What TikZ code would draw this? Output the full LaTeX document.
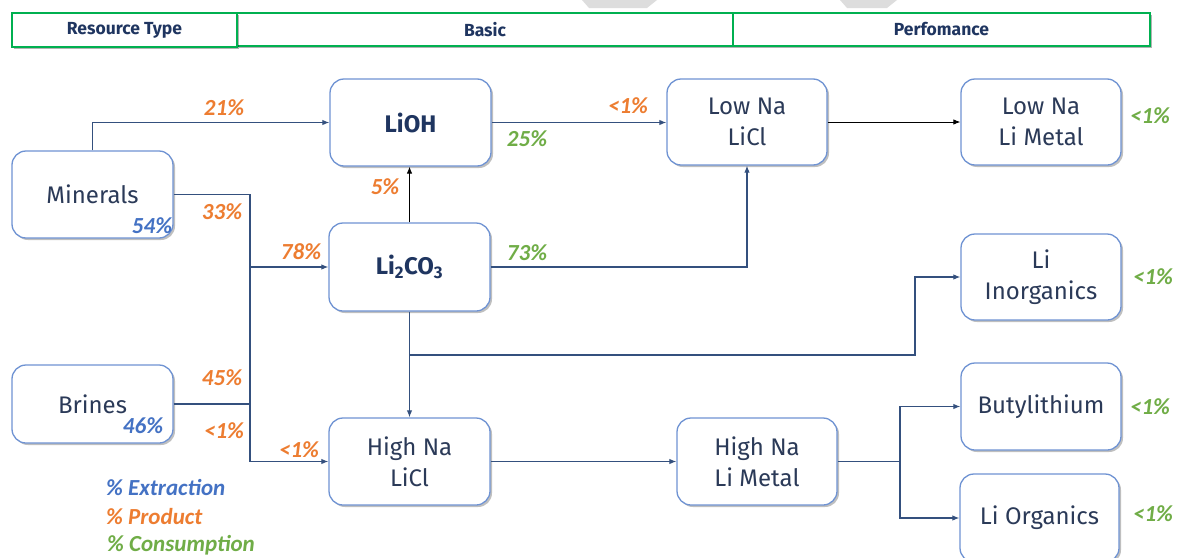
\documentclass[tikz,border=0pt]{standalone}
\usepackage{fontspec}
\setmainfont{Fira Sans}
\newfontfamily\pctfont{Carlito}
\usetikzlibrary{arrows.meta,shadows}
\definecolor{boxc}{HTML}{6F93D3}
\definecolor{txt}{HTML}{2B3A58}
\definecolor{txtb}{HTML}{1F3560}
\definecolor{linec}{HTML}{34507E}
\definecolor{hgreen}{HTML}{00B050}
\definecolor{por}{HTML}{ED7D31}
\definecolor{pbl}{HTML}{4472C4}
\definecolor{pgr}{HTML}{70AD47}
\definecolor{wm}{HTML}{DDDDDD}
\tikzset{
  box/.style={draw=boxc, line width=1.3pt, rounded corners=14pt, fill=white,
    minimum width=161pt, minimum height=87pt, inner sep=0pt, align=center,
    font=\fontsize{24}{31}\selectfont, text=txt,
    drop shadow={shadow xshift=2pt, shadow yshift=-2pt, opacity=0.25, fill=black}},
  boldbox/.style={box, font=\fontsize{24}{31}\selectfont\bfseries, text=txtb},
  hdr/.style={draw=hgreen, line width=2.5pt, fill=white, minimum height=33pt, inner sep=0pt,
    font=\fontsize{17.5}{19}\selectfont\bfseries, text=txtb,
    drop shadow={shadow xshift=1.5pt, shadow yshift=-1.5pt, opacity=0.3, fill=black}},
  pct/.style={font=\pctfont\fontsize{23}{25}\selectfont\bfseries\itshape, inner sep=0pt},
  po/.style={pct, text=por},
  pb/.style={pct, text=pbl},
  pg/.style={pct, text=pgr},
  conn/.style={draw=linec, line width=1.1pt, -{Latex[length=7pt,width=5.5pt]}},
  bconn/.style={draw=black, line width=0.9pt, -{Latex[length=7pt,width=5.5pt]}},
  plain/.style={draw=linec, line width=1.1pt},
}
\begin{document}
\begin{tikzpicture}[x=1pt,y=-1pt]
\fill[white] (0,0) rectangle (1178,557);
\useasboundingbox (0,0) rectangle (1178,557);
% faint watermark shapes at the top
\fill[wm] (582,0) -- (657,0) -- (647,8) -- (589,8) -- cycle;
\fill[wm] (840,0) -- (897,0) -- (887,8) -- (847,8) -- cycle;
% header
\node[hdr, minimum width=496pt] (hB) at (485,29.5) {Basic};
\node[hdr, minimum width=417pt] (hP) at (941.5,29.5) {Perfomance};
\node[hdr, minimum width=225pt, minimum height=34pt] (hR) at (124.5,30) {Resource Type};
% nodes
\node[box] (Min) at (92.5,194.5) {Minerals};
\node[box, minimum height=78pt] (Bri) at (92.5,404) {Brines};
\node[boldbox] (LiOH) at (410.5,122.5) {LiOH};
\node[boldbox, minimum height=88pt] (LiC) at (409.5,267) {Li\textsubscript{2}CO\textsubscript{3}};
\node[box] (HNL) at (409.5,461.5) {High Na\\LiCl};
\node[box, minimum width=160pt, minimum height=86pt] (LNL) at (747,122) {Low Na\\LiCl};
\node[box, minimum width=160pt, minimum height=86pt] (LNM) at (1041,122) {Low Na\\Li Metal};
\node[box, minimum width=160pt, minimum height=86pt] (LIn) at (1041,277) {Li\\Inorganics};
\node[box, minimum width=160pt] (HNM) at (757,461.5) {High Na\\Li Metal};
\node[box, minimum width=160pt] (But) at (1041,406.5) {Butylithium};
\node[box, minimum width=159pt, minimum height=88pt] (LOr) at (1039.5,518) {Li Organics};
% connectors
\coordinate (jb) at (250,461.5);
\coordinate (br) at (409.5,355);
\coordinate (ki) at (915,355);
\coordinate (jm) at (900,461.5);
\draw[conn] (Min.north) |- (LiOH.west);
\draw[plain] (Min.east) -| (jb);
\draw[plain] (Bri.east) -- (Bri.east -| jb);
\draw[conn] (LiC.west -| jb) -- (LiC.west);
\draw[conn] (jb) -- (HNL.west);
\draw[bconn] (LiC.north) -- (LiC.north |- LiOH.south);
\draw[conn] (LiOH.east) -- (LNL.west |- LiOH.east);
\draw[conn] (LiC.east) -| (LNL.south);
\draw[bconn] (LNL.east) -- (LNM.west);
\draw[conn] (LiC.south) -- (HNL.north);
\draw[conn] (br) -- (ki) |- (LIn.west);
\draw[conn] (HNL.east) -- (HNM.west);
\draw[plain] (HNM.east) -- (jm);
\draw[conn] (jm) |- (But.west);
\draw[conn] (jm) |- (LOr.west);
% percentages
\node[po] (p21) at (224,108) {21\%};
\node[po] (p33) at (222,212) {33\%};
\node[po] (p78) at (301,252) {78\%};
\node[po] (p45) at (222,378) {45\%};
\node[po] (pb1) at (224,431) {<1\%};
\node[po] (ph1) at (299,450) {<1\%};
\node[po] (p5) at (385,187) {5\%};
\node[po] (pl1) at (628,106) {<1\%};
\node[pg] (p25) at (527,139) {25\%};
\node[pg] (p73) at (527,253) {73\%};
\node[pb] (p54) at (152,226) {54\%};
\node[pb] (p46) at (143,426) {46\%};
\node[pg] (g1) at (1150,116) {<1\%};
\node[pg] (g2) at (1153,277) {<1\%};
\node[pg] (g3) at (1150,407) {<1\%};
\node[pg] (g4) at (1153,514) {<1\%};
% legend
\node[pb, anchor=west] (lE) at (106,488) {\% Extraction};
\node[po, anchor=west] (lP) at (106,517) {\% Product};
\node[pg, anchor=west] (lC) at (107,545) {\% Consumption};
\end{tikzpicture}
\end{document}
